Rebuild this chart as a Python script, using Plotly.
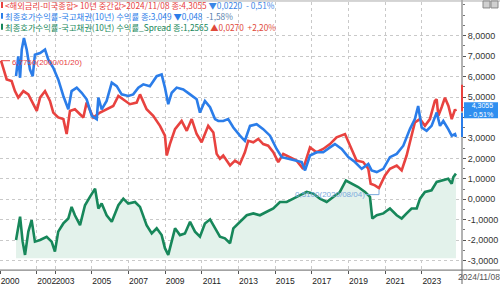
import plotly.graph_objects as go

# ---- data (time as decimal years) ----
RED_T = [2000.05, 2000.18, 2000.36, 2000.63, 2000.81, 2000.99, 2001.27, 2001.54, 2001.81, 2002.00,
         2002.18, 2002.45, 2002.72, 2002.90, 2003.17, 2003.45, 2003.63, 2003.81, 2004.08, 2004.36,
         2004.54, 2004.72, 2005.08, 2005.45, 2005.81, 2006.17, 2006.45, 2006.72, 2007.08, 2007.45,
         2007.63, 2007.99, 2008.35, 2008.72, 2008.99, 2009.09, 2009.26, 2009.54, 2009.90, 2010.18,
         2010.45, 2010.72, 2010.99, 2011.35, 2011.63, 2011.81, 2011.99, 2012.17, 2012.54, 2012.81,
         2013.08, 2013.35, 2013.53, 2013.81, 2014.08, 2014.35, 2014.62, 2014.90, 2015.17, 2015.44,
         2015.81, 2016.17, 2016.53, 2016.90, 2017.26, 2017.62, 2017.99, 2018.35, 2018.81, 2019.08,
         2019.44, 2019.80, 2020.08, 2020.21, 2020.44, 2020.66, 2020.82, 2020.99, 2021.26, 2021.63,
         2021.90, 2022.17, 2022.35, 2022.62, 2022.90, 2023.17, 2023.44, 2023.71, 2023.81, 2023.90,
         2024.08, 2024.26, 2024.45, 2024.63, 2024.81, 2024.86]
RED_V = [6.775, 6.34, 5.86, 5.78, 5.29, 4.97, 5.29, 5.13, 4.65, 4.32,
         4.97, 5.29, 4.81, 4.24, 4.00, 3.92, 3.19, 4.32, 4.40, 4.16,
         4.00, 4.73, 4.00, 4.24, 4.40, 4.56, 5.05, 4.89, 4.65, 4.73,
         5.13, 4.40, 4.08, 3.59, 3.11, 2.14, 2.70, 3.43, 3.83, 3.35,
         3.92, 3.19, 2.79, 3.59, 3.27, 2.22, 1.98, 2.14, 1.65, 1.89,
         1.73, 2.30, 2.86, 2.79, 2.95, 2.70, 2.62, 2.30, 1.82, 2.22,
         2.06, 1.89, 1.49, 2.54, 2.30, 2.46, 2.70, 3.03, 3.19, 2.62,
         1.89, 1.82, 1.49, 0.76, 0.68, 0.55, 0.85, 1.17, 1.49, 1.65,
         1.41, 2.14, 2.79, 3.76, 3.92, 3.59, 3.92, 4.81, 4.89, 4.08,
         4.50, 4.97, 4.56, 3.92, 4.40, 4.3055]

BLUE_T = [2000.87, 2000.99, 2001.09, 2001.18, 2001.30, 2001.45, 2001.63, 2001.78, 2001.90, 2002.18,
          2002.45, 2002.63, 2002.90, 2003.17, 2003.45, 2003.72, 2003.90, 2004.18, 2004.45, 2004.72,
          2005.00, 2005.27, 2005.36, 2005.54, 2005.81, 2006.09, 2006.36, 2006.63, 2006.99, 2007.26,
          2007.54, 2007.81, 2008.17, 2008.54, 2008.81, 2008.99, 2009.17, 2009.36, 2009.63, 2009.99,
          2010.36, 2010.72, 2010.90, 2011.17, 2011.45, 2011.72, 2011.90, 2012.17, 2012.44, 2012.72,
          2013.08, 2013.35, 2013.63, 2013.99, 2014.35, 2014.72, 2015.08, 2015.36, 2015.72, 2016.08,
          2016.45, 2016.63, 2016.90, 2017.26, 2017.62, 2017.99, 2018.26, 2018.63, 2018.99, 2019.35,
          2019.72, 2020.08, 2020.26, 2020.54, 2020.90, 2021.26, 2021.63, 2021.99, 2022.35, 2022.62,
          2022.80, 2022.99, 2023.26, 2023.53, 2023.81, 2023.99, 2024.17, 2024.44, 2024.63, 2024.81,
          2024.86]
BLUE_V = [6.02, 6.99, 5.94, 7.32, 7.88, 7.32, 6.34, 6.02, 7.07, 7.15,
          7.32, 6.83, 6.43, 5.86, 5.05, 4.40, 5.29, 5.46, 5.21, 4.89,
          4.08, 3.92, 4.97, 4.40, 4.81, 5.70, 5.53, 5.13, 5.05, 5.13,
          5.46, 5.62, 5.53, 6.02, 6.10, 5.46, 4.65, 5.21, 5.46, 5.37,
          5.13, 4.89, 4.24, 4.81, 4.50, 3.92, 3.83, 3.83, 3.92, 3.51,
          3.11, 2.86, 3.59, 3.67, 3.43, 3.11, 2.46, 2.06, 1.98, 1.89,
          1.82, 1.41, 2.14, 2.30, 2.30, 2.54, 2.70, 2.46, 2.06, 1.82,
          1.49, 1.73, 1.41, 1.33, 1.49, 2.06, 2.22, 2.62, 3.43, 3.92,
          4.56, 3.51, 3.35, 3.59, 4.24, 3.59, 3.83, 3.43, 3.11, 3.19,
          3.049]

GREEN_T = [2000.87, 2000.99, 2001.09, 2001.23, 2001.36, 2001.54, 2001.72, 2001.90, 2002.18, 2002.54,
           2002.81, 2002.99, 2003.17, 2003.45, 2003.72, 2003.90, 2004.08, 2004.36, 2004.63, 2004.90,
           2005.18, 2005.36, 2005.54, 2005.81, 2006.09, 2006.45, 2006.72, 2006.99, 2007.36, 2007.63,
           2007.99, 2008.27, 2008.54, 2008.81, 2008.99, 2009.17, 2009.36, 2009.54, 2009.81, 2010.08,
           2010.36, 2010.63, 2010.90, 2011.17, 2011.45, 2011.72, 2011.99, 2012.26, 2012.54, 2012.72,
           2013.08, 2013.45, 2013.81, 2014.17, 2014.54, 2014.90, 2015.26, 2015.63, 2015.99, 2016.35,
           2016.72, 2017.08, 2017.44, 2017.81, 2018.17, 2018.53, 2018.86, 2019.17, 2019.53, 2019.90,
           2020.17, 2020.30, 2020.54, 2020.90, 2021.26, 2021.63, 2021.90, 2022.17, 2022.44, 2022.72,
           2022.90, 2023.17, 2023.53, 2023.81, 2024.17, 2024.44, 2024.63, 2024.72, 2024.86]
GREEN_V = [-1.99, -1.42, -0.85, -2.07, -2.72, -1.58, -1.02, -2.07, -1.99, -1.83,
           -2.07, -2.55, -1.58, -1.18, -0.94, -0.37, -0.78, -1.26, -0.29, 0.12,
           0.52, -0.45, -0.21, -0.78, -1.10, -0.29, 0.03, -0.21, -0.13, -0.37,
           -1.26, -1.67, -1.42, -1.75, -2.39, -2.72, -2.07, -1.42, -1.75, -1.67,
           -1.10, -1.58, -1.83, -1.18, -0.98, -1.42, -1.83, -1.91, -2.15, -1.42,
           -1.10, -0.78, -0.69, -0.78, -0.61, -0.45, -0.13, -0.13, 0.03, 0.19,
           0.36, 0.28, 0.03, -0.13, 0.12, 0.36, 0.92, 0.76, 0.60, 0.36,
           0.12, -0.94, -0.78, -0.69, -0.45, -0.78, -0.94, -0.69, -0.45, -0.45,
           0.03, 0.36, 0.44, 0.85, 0.92, 1.00, 0.76, 1.09, 1.2565]
FILL_BASE = -2.88

Y_TICKS = [-3, -2, -1, 0, 1, 2, 3, 4, 5, 6, 7, 8]
# the 4,0000 label is hidden behind the last-value box in the reference
Y_TICK_TEXT = ["-3,0000", "-2,0000", "-1,0000", "0,0000", "1,0000", "2,0000",
               "3,0000", "", "5,0000", "6,0000", "7,0000", "8,0000"]
X_TICKS = [2000, 2002, 2003, 2005, 2007, 2009, 2011, 2013, 2015, 2017, 2019, 2021, 2023]
X_TICK_TEXT = [str(v) for v in X_TICKS]

RED = "#e8423f"
BLUE = "#2b7de9"
GREEN = "#17875a"
FILL = "#e3f2eb"
W, H = 500, 286
CJK = "Noto Sans CJK KR"
LW = 2.6


def px(x):
    return x / W


def py(y):
    return 1 - y / H


fig = go.Figure()
fig.add_trace(go.Scatter(x=GREEN_T, y=[FILL_BASE] * len(GREEN_T), mode="lines",
                         line=dict(width=0, color=FILL), hoverinfo="skip"))
fig.add_trace(go.Scatter(x=GREEN_T, y=GREEN_V, mode="lines", fill="tonexty", fillcolor=FILL,
                         line=dict(color=GREEN, width=LW)))
fig.add_trace(go.Scatter(x=RED_T, y=RED_V, mode="lines", line=dict(color=RED, width=LW)))
fig.add_trace(go.Scatter(x=BLUE_T, y=BLUE_V, mode="lines", line=dict(color=BLUE, width=LW)))

grid = dict(showgrid=True, gridcolor="#c9c9c9", gridwidth=1, griddash="dot", zeroline=False)
fig.update_layout(
    width=W, height=H, margin=dict(l=0, r=0, t=0, b=0),
    paper_bgcolor="white", plot_bgcolor="white", showlegend=False,
    xaxis=dict(domain=[0, px(462)], range=[1999.995, 2025.19], tickmode="array",
               tickvals=X_TICKS, ticktext=X_TICK_TEXT, ticks="outside", ticklen=3,
               tickcolor="#555", ticklabelshift=10, tickangle=0, ticklabeloverflow="allow",
               tickfont=dict(family="Liberation Sans", size=8.5, color="#222"), **grid),
    yaxis=dict(domain=[py(272), py(2)], range=[-3.461, 9.646], side="right", tickmode="array",
               tickvals=Y_TICKS, ticktext=Y_TICK_TEXT, ticks="outside", ticklen=3,
               tickcolor="#555",
               minor=dict(tickmode="linear", tick0=0, dtick=0.5, ticks="outside", ticklen=2,
                          tickcolor="#777", showgrid=False),
               tickfont=dict(family="Liberation Sans", size=9, color="#333"), **grid),
)

shapes = [
    dict(type="line", xref="paper", yref="paper", x0=0, x1=1, y0=py(272), y1=py(272),
         line=dict(color="#666", width=1)),
    dict(type="line", xref="paper", yref="paper", x0=px(462), x1=px(462), y0=0, y1=1,
         line=dict(color="#666", width=1)),
    dict(type="line", xref="paper", yref="paper", x0=0, x1=1, y0=py(1), y1=py(1),
         line=dict(color="#aaa", width=1)),
    # legend colour markers
    dict(type="rect", xref="paper", yref="paper", x0=px(1), x1=px(3), y0=py(8), y1=py(2),
         fillcolor=RED, line=dict(width=0)),
    dict(type="rect", xref="paper", yref="paper", x0=px(1), x1=px(3), y0=py(19), y1=py(13),
         fillcolor=BLUE, line=dict(width=0)),
    dict(type="rect", xref="paper", yref="paper", x0=px(1), x1=px(3), y0=py(30), y1=py(24),
         fillcolor=GREEN, line=dict(width=0)),
    # start-value marker line
    dict(type="line", xref="paper", yref="y", x0=px(1), x1=px(10), y0=RED_V[0], y1=RED_V[0],
         line=dict(color=RED, width=1)),
    # minimum marker line
    dict(type="line", xref="paper", yref="paper", x0=px(366), x1=px(379), y0=py(196), y1=py(196),
         line=dict(color="#7aa9dd", width=1)),
    dict(type="line", xref="paper", yref="paper", x0=px(379), x1=px(379), y0=py(196), y1=py(191),
         line=dict(color="#7aa9dd", width=1)),
    # axis value bars
    dict(type="line", xref="paper", yref="y", x0=px(462), x1=px(462), y0=RED_V[-1], y1=5.6,
         line=dict(color=RED, width=2)),
    dict(type="line", xref="paper", yref="y", x0=px(462), x1=px(462), y0=BLUE_V[-1], y1=4.22,
         line=dict(color=BLUE, width=2)),
    # last value box
    dict(type="rect", xref="paper", yref="paper", x0=px(464), x1=px(498), y0=py(119), y1=py(103),
         fillcolor="#2f8ff0", line=dict(width=0)),
    # window icons
    dict(type="rect", xref="paper", yref="paper", x0=px(483), x1=px(490), y0=py(8), y1=py(1),
         fillcolor="#d0d0d0", line=dict(color="#888", width=1)),
    dict(type="rect", xref="paper", yref="paper", x0=px(491), x1=px(498), y0=py(8), y1=py(1),
         fillcolor="#d0d0d0", line=dict(color="#888", width=1)),
]
fig.update_layout(shapes=shapes)

ann = [
    dict(x=px(4), y=py(5.5), text="<해외금리-미국종합> 10년 중간값>2024/11/08 종:4,3055 "
         "<span style='color:#3b86e6'>▼0,0220  - 0,51%</span>",
         font=dict(family=CJK, size=8.3, color=RED)),
    dict(x=px(4), y=py(16.5), text="최종호가수익률-국고채권(10년) 수익률 종:3,049 "
         "<span style='color:#2b7de9'>▼0,048</span>  <span style='color:#5a7fae'>-1,58%</span>",
         font=dict(family=CJK, size=8.3, color=BLUE)),
    dict(x=px(4), y=py(27.5), text="최종호가수익률-국고채권(10년) 수익률_Spread 종:1,2565 "
         "<span style='color:#e04a3a'>▲0,0270  +2,20%</span>",
         font=dict(family=CJK, size=8.3, color=GREEN)),
    dict(x=px(11), y=py(62.5), text="6,7750(2000/01/20)",
         font=dict(family="Liberation Sans", size=8, color=RED)),
    dict(x=px(366), y=py(196), text="0,5100(2020/08/04)", xanchor="right",
         font=dict(family="Liberation Sans", size=8, color="#7aa9dd")),
    dict(x=px(481), y=py(111), text="4,3055<br>- 0,51%", xanchor="center",
         font=dict(family="Liberation Sans", size=7, color="white")),
    dict(x=px(479), y=py(279), text="2024/11/08", xanchor="center",
         font=dict(family="Liberation Sans", size=8.5, color="#555")),
]
for a in ann:
    a.setdefault("xanchor", "left")
    a.update(xref="paper", yref="paper", yanchor="middle", showarrow=False, align="left",
             borderpad=0)
    if a["text"].startswith("4,3055"):
        a["align"] = "right"
fig.update_layout(annotations=ann)

fig.write_html("out.html")
